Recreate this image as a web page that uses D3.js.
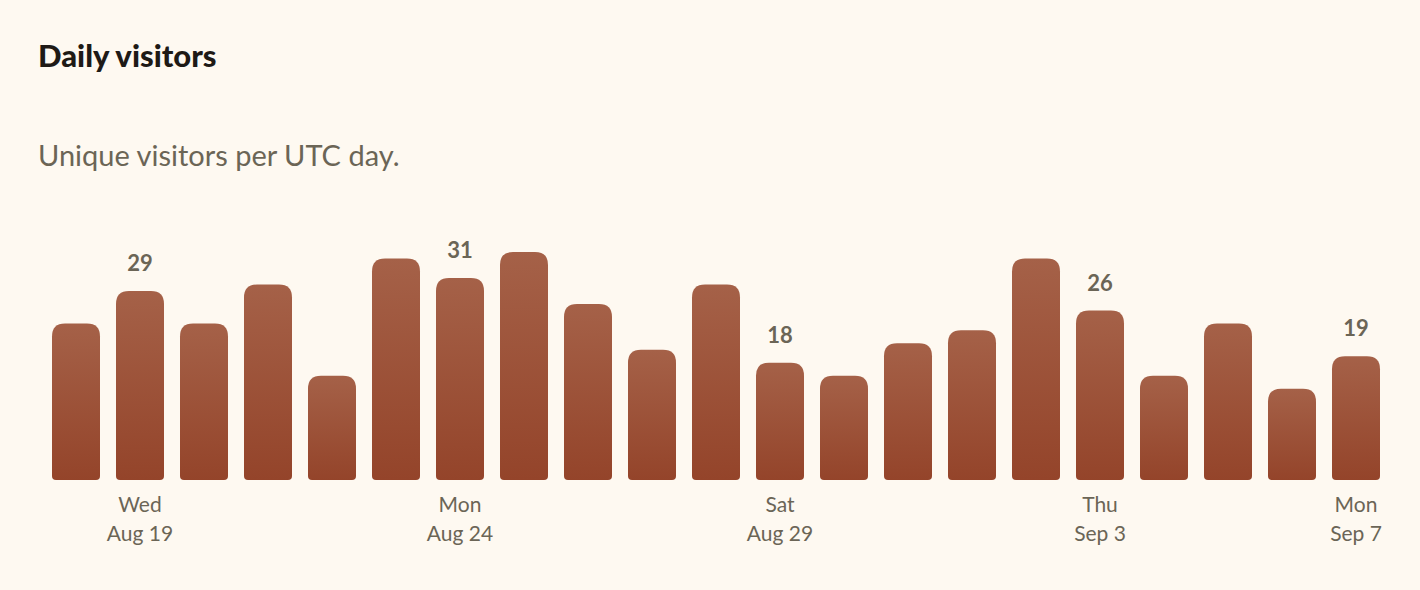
<!DOCTYPE html>
<html><head><meta charset="utf-8">
<script src="https://cdn.jsdelivr.net/npm/d3@7/dist/d3.min.js"></script>
<style>body{margin:0;background:#fef9f1;}svg{display:block}</style>
</head><body>
<script>
const days = ["Aug 18","Aug 19","Aug 20","Aug 21","Aug 22","Aug 23","Aug 24","Aug 25","Aug 26","Aug 27","Aug 28","Aug 29","Aug 30","Aug 31","Sep 1","Sep 2","Sep 3","Sep 4","Sep 5","Sep 6","Sep 7"];
const visitors = [24,29,24,30,16,34,31,35,27,20,30,18,16,21,23,34,26,16,24,14,19];
const labeledDays = ["Aug 19","Aug 24","Aug 29","Sep 3","Sep 7"];
const weekdays = {"Aug 19":"Wed","Aug 24":"Mon","Aug 29":"Sat","Sep 3":"Thu","Sep 7":"Mon"};

const W=1420,H=590;
const svg=d3.select("body").append("svg").attr("width",W).attr("height",H);
svg.append("rect").attr("width",W).attr("height",H).attr("fill","#fef9f1");
const defs=svg.append("defs");
const g=defs.append("linearGradient").attr("id","bg").attr("x1",0).attr("y1",0).attr("x2",0).attr("y2",1);
g.append("stop").attr("offset","0%").attr("stop-color","#a56148");
g.append("stop").attr("offset","100%").attr("stop-color","#94442a");

svg.append("text").attr("x",38).attr("y",67).text("Daily visitors")
  .attr("font-family","Lato").attr("font-weight",900).attr("font-size",31).attr("fill","#1e1a16");
svg.append("text").attr("x",38).attr("y",166).text("Unique visitors per UTC day.")
  .attr("font-family","Lato").attr("font-size",29).attr("fill","#6b6556");

const x=d3.scaleBand().domain(days).range([44,1388]).paddingInner(16/64).paddingOuter(8/64);
const y=d3.scaleLinear().domain([0,31]).range([480,278]);

function barPath(x0,w,y0,y1,rt,rb){
  return `M${x0},${y1-rb} L${x0},${y0+rt} Q${x0},${y0} ${x0+rt},${y0} L${x0+w-rt},${y0} Q${x0+w},${y0} ${x0+w},${y0+rt} L${x0+w},${y1-rb} Q${x0+w},${y1} ${x0+w-rb},${y1} L${x0+rb},${y1} Q${x0},${y1} ${x0},${y1-rb} Z`;
}
svg.append("g").selectAll("path").data(days).join("path")
  .attr("d",(d,i)=>barPath(x(d),x.bandwidth(),y(visitors[i]),y(0),13,4))
  .attr("fill","url(#bg)");

svg.append("g").selectAll("text").data(days.filter(d=>labeledDays.includes(d))).join("text")
  .attr("x",d=>x(d)+x.bandwidth()/2).attr("y",d=>y(visitors[days.indexOf(d)])-20)
  .attr("text-anchor","middle").attr("font-family","Lato").attr("font-weight",700)
  .attr("font-size",22).attr("fill","#6b6556").text(d=>visitors[days.indexOf(d)]);

const ax=svg.append("g").attr("transform","translate(0,480)")
  .call(d3.axisBottom(x).tickValues(labeledDays).tickSize(0).tickFormat(""));
ax.select(".domain").remove();
ax.selectAll(".tick").each(function(d){
  const t=d3.select(this).append("text").attr("text-anchor","middle")
    .attr("font-family","Lato").attr("font-size",21).attr("fill","#6b6556");
  t.append("tspan").attr("x",0).attr("y",32).text(weekdays[d]);
  t.append("tspan").attr("x",0).attr("y",61).text(d);
});
</script>
</body></html>
